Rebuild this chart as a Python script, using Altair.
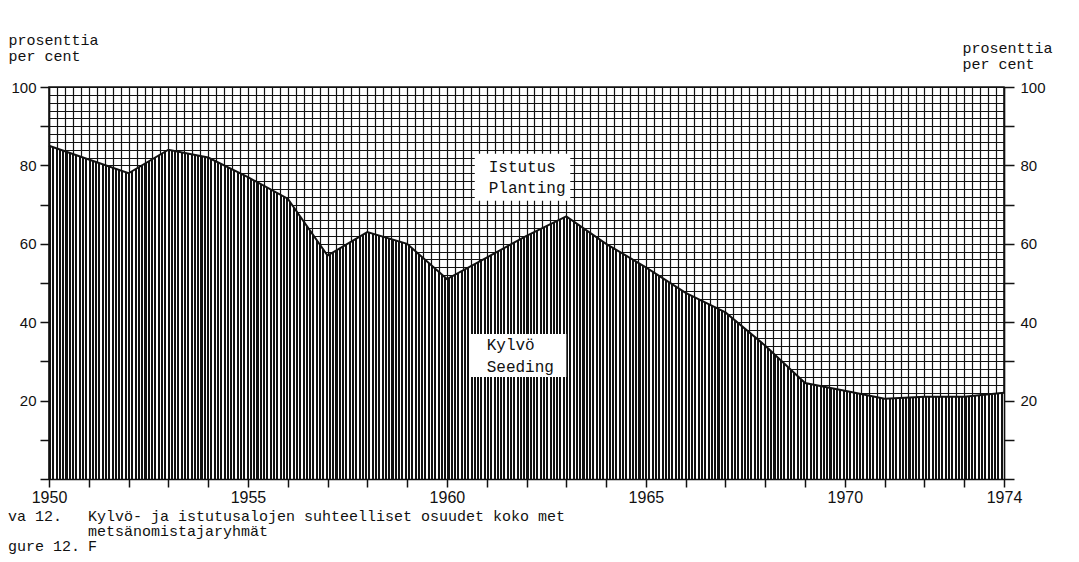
import altair as alt
import pandas as pd

# ---- data ----
years = list(range(1950, 1975))
seeding = [85, 81.5, 78, 84, 82, 77, 71.5, 57, 63, 60, 51, 56.5, 62, 67, 60,
           54, 47.5, 42.5, 34, 24.5, 22.5, 20.5, 21, 21, 22]

x_label_years = [1950, 1955, 1960, 1965, 1970, 1974]

# area label boxes (data coordinates)
box_names = ["Istutus", "Kylvö"]
box_year_start = [1960.7, 1960.6]
box_year_end = [1963.1, 1963.0]
box_pct_low = [71, 26]
box_pct_high = [83, 37]

label_text = ["Istutus", "Planting", "Kylvö", "Seeding"]
label_year = [1961.05, 1961.05, 1961.0, 1961.0]
label_pct = [79.5, 74.3, 34.3, 28.6]

df = pd.DataFrame({"year": years, "seeding": seeding})
box_df = pd.DataFrame({"name": box_names, "x0": box_year_start, "x1": box_year_end,
                       "y0": box_pct_low, "y1": box_pct_high})
lab_df = pd.DataFrame({"label": label_text, "year": label_year, "pct": label_pct})

INK = "#111111"
MONO = "Liberation Mono"
SANS = "Liberation Sans"
W, H = 955, 392

xs = alt.Scale(domain=[1950, 1974], nice=False, zero=False)
ys = alt.Scale(domain=[0, 100], nice=False, zero=True)

x_grid_vals = [round(1950 + 0.2 * i, 1) for i in range(121)]
y_grid_vals = list(range(0, 101, 2))

# vertical hatching for the seeding area, built as a hard-stop gradient
N = 290
frac = 0.62
stops = []
for i in range(N):
    a = round(i / N, 6)
    b = round((i + frac) / N, 6)
    c = round((i + 1) / N, 6)
    stops += [alt.GradientStop(color=INK, offset=a),
              alt.GradientStop(color=INK, offset=b),
              alt.GradientStop(color="white", offset=b),
              alt.GradientStop(color="white", offset=c)]
hatch = alt.Gradient(gradient="linear", stops=stops, x1=0, x2=1, y1=0, y2=0)

base = alt.Chart(df)

# crosshatch grid (planting area) through axis grids
grid = base.mark_line(opacity=0).encode(
    x=alt.X("year:Q", scale=xs, title=None,
            axis=alt.Axis(orient="bottom", values=x_grid_vals, grid=True, gridColor=INK,
                          gridWidth=1.2, gridOpacity=1, labels=False, ticks=False, domain=False)),
    y=alt.Y("seeding:Q", scale=ys, title=None,
            axis=alt.Axis(orient="left", values=y_grid_vals, grid=True, gridColor=INK,
                          gridWidth=1.2, gridOpacity=1, labels=False, ticks=False, domain=False)),
)

x_axis = alt.Axis(orient="bottom", values=years, format="d", grid=False,
                  labelExpr="indexof([1950,1955,1960,1965,1970,1974], datum.value) >= 0 ? datum.label : ''",
                  labelFont=SANS, labelFontSize=16, labelColor=INK, labelPadding=2,
                  labelFlush=False, labelOverlap=False, labelBound=False,
                  tickColor=INK, tickSize=8, tickWidth=1.5,
                  domainColor=INK, domainWidth=1.5, zindex=1)

y_left = alt.Axis(orient="left", values=list(range(0, 101, 10)), grid=False,
                  labelExpr="datum.value > 0 && datum.value % 20 == 0 ? datum.label : ''",
                  labelFont=SANS, labelFontSize=15, labelColor=INK, labelPadding=4,
                  labelFlush=False, labelOverlap=False, labelBound=False,
                  tickColor=INK, tickSize=9, tickWidth=1.5,
                  domainColor=INK, domainWidth=1.5, zindex=1,
                  title=["prosenttia", "per cent"], titleAngle=0, titleAlign="left",
                  titleBaseline="top", titleX=-41, titleY=-55, titleFont=MONO,
                  titleFontSize=15, titleFontWeight="normal", titleColor=INK,
                  titleLineHeight=16)

y_right = alt.Axis(orient="right", values=list(range(0, 101, 10)), grid=False,
                   labelExpr="datum.value > 0 && datum.value % 20 == 0 ? datum.label : ''",
                   labelFont=SANS, labelFontSize=15, labelColor=INK, labelPadding=6,
                   labelFlush=False, labelOverlap=False, labelBound=False,
                   tickColor=INK, tickSize=10, tickWidth=1.5,
                   domainColor=INK, domainWidth=1.5, zindex=1,
                   title=["prosenttia", "per cent"], titleAngle=0, titleAlign="left",
                   titleBaseline="top", titleX=-42, titleY=-47, titleFont=MONO,
                   titleFontSize=15, titleFontWeight="normal", titleColor=INK,
                   titleLineHeight=16)

area = base.mark_area(color=hatch).encode(
    x=alt.X("year:Q", scale=xs, axis=x_axis, title=None),
    y=alt.Y("seeding:Q", scale=ys, axis=y_left),
)

line = base.mark_line(color=INK, strokeWidth=2).encode(
    x=alt.X("year:Q", scale=xs, axis=None),
    y=alt.Y("seeding:Q", scale=ys, axis=y_right),
)

boxes = alt.Chart(box_df).mark_rect(color="white").encode(
    x=alt.X("x0:Q", scale=xs, axis=None), x2="x1",
    y=alt.Y("y0:Q", scale=ys, axis=None), y2="y1",
)

labels = alt.Chart(lab_df).mark_text(align="left", baseline="middle", font=MONO,
                                     fontSize=16, color=INK).encode(
    x=alt.X("year:Q", scale=xs, axis=None),
    y=alt.Y("pct:Q", scale=ys, axis=None),
    text="label:N",
)

one = alt.Data(values=[{}])
cap_style = dict(align="left", baseline="middle", font=MONO, fontSize=15, color=INK)
cap1 = alt.Chart(one).mark_text(text="va 12.", **cap_style).encode(x=alt.value(-41), y=alt.value(429))
cap2 = alt.Chart(one).mark_text(text="Kylvö- ja istutusalojen suhteelliset osuudet koko met",
                                **cap_style).encode(x=alt.value(39), y=alt.value(429))
cap3 = alt.Chart(one).mark_text(text="metsänomistajaryhmät", **cap_style).encode(
    x=alt.value(39), y=alt.value(444))
cap4 = alt.Chart(one).mark_text(text="gure 12.", **cap_style).encode(x=alt.value(-41), y=alt.value(459))
cap5 = alt.Chart(one).mark_text(text="F", **cap_style).encode(x=alt.value(39), y=alt.value(459))

chart = alt.layer(grid, area, line, boxes, labels, cap1, cap2, cap3, cap4, cap5).resolve_axis(
    x="independent", y="independent"
).properties(
    width=W, height=H,
    autosize=alt.AutoSizeParams(type="none"),
    padding={"left": 41, "top": 79, "right": 56, "bottom": 77},
    background="white",
).configure_view(stroke=INK, strokeWidth=1.5)

chart.save("out.html", embed_options={"renderer": "svg", "actions": False})
